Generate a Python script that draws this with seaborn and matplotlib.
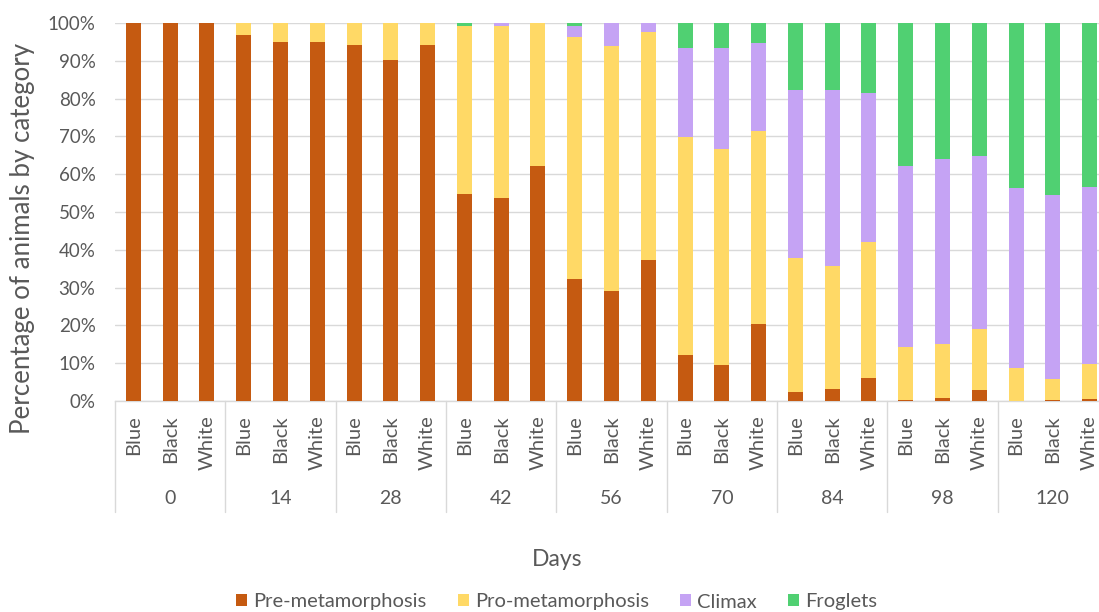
import numpy as np
import pandas as pd
import matplotlib
matplotlib.use("Agg")
import matplotlib.pyplot as plt
from matplotlib.patches import Patch
from matplotlib.transforms import blended_transform_factory
import seaborn as sns

# --- data: share of animals (%) in each developmental stage ---
days = ["0", "14", "28", "42", "56", "70", "84", "98", "120"]
backgrounds = ["Blue", "Black", "White"]
stages = ["Pre-metamorphosis", "Pro-metamorphosis", "Climax", "Froglets"]

pre_meta = [100, 100, 100, 96.8, 95.1, 95.1, 94.3, 90.3, 94.3,
            54.7, 53.8, 62.2, 32.3, 29.2, 37.4, 12.2, 9.6, 20.4,
            2.4, 3.2, 6.0, 0.3, 0.8, 2.8, 0.0, 0.3, 0.5]
pro_meta = [0, 0, 0, 3.2, 4.9, 4.9, 5.7, 9.7, 5.7,
            44.4, 45.3, 37.8, 63.9, 64.8, 60.2, 57.6, 57.1, 50.9,
            35.3, 32.5, 36.0, 14.1, 14.2, 16.2, 8.6, 5.5, 9.3]
climax = [0, 0, 0, 0, 0, 0, 0, 0, 0,
          0.0, 0.9, 0.0, 3.1, 6.0, 2.4, 23.5, 26.8, 23.5,
          44.6, 46.7, 39.4, 47.8, 49.0, 45.9, 47.8, 48.6, 46.7]
froglets = [0, 0, 0, 0, 0, 0, 0, 0, 0,
            0.9, 0.0, 0.0, 0.7, 0.0, 0.0, 6.7, 6.5, 5.2,
            17.7, 17.6, 18.6, 37.8, 36.0, 35.1, 43.6, 45.6, 43.5]

colors = ["#C55A11", "#FFD966", "#C5A3F4", "#50D072"]
text_grey = "#595959"
grid_grey = "#D9D9D9"

sns.set_style("white")
plt.rcParams["font.family"] = ["Lato", "DejaVu Sans"]

keys = [f"{d}-{b}" for d in days for b in backgrounds]
df = pd.DataFrame({"key": keys, "pre": pre_meta, "pro": pro_meta,
                   "climax": climax, "froglets": froglets})
# cumulative tops, drawn from the tallest layer down so each overlays the next
df["c_pre"] = df["pre"]
df["c_pro"] = df["c_pre"] + df["pro"]
df["c_climax"] = df["c_pro"] + df["climax"]
df["c_frog"] = df["c_climax"] + df["froglets"]

W, H = 1099, 612
fig = plt.figure(figsize=(W / 100, H / 100), dpi=100)
ax = fig.add_axes([115 / W, 1 - 401 / H, 993 / W, 378 / H])

for col, c in zip(["c_frog", "c_climax", "c_pro", "c_pre"], colors[::-1]):
    sns.barplot(data=df, x="key", y=col, order=keys, color=c, saturation=1,
                width=0.41, errorbar=None, linewidth=0, ax=ax, zorder=3)

ax.set_ylim(0, 100)
ax.set_xlim(-0.5, len(keys) - 0.5)
ax.set_yticks(np.arange(0, 101, 10))
ax.set_yticklabels([f"{v}%" for v in range(0, 101, 10)])
ax.yaxis.grid(True, color=grid_grey, linewidth=1.0, zorder=0)
ax.set_axisbelow(True)
for s in ["top", "right", "left"]:
    ax.spines[s].set_visible(False)
ax.spines["bottom"].set_color(grid_grey)
ax.spines["bottom"].set_linewidth(1.0)
ax.tick_params(axis="y", length=0, pad=14, labelsize=13.5, labelcolor=text_grey)

ax.set_xticks(range(len(keys)))
ax.set_xticklabels([b for d in days for b in backgrounds], rotation=90,
                   ha="center", va="top")
ax.tick_params(axis="x", length=0, pad=10, labelsize=14.5, labelcolor=text_grey)
ax.set_xlabel("")
ax.set_ylabel("")

# grouped category axis: dividers and day labels
trans = blended_transform_factory(ax.transData, ax.transAxes)
for i in range(len(days) + 1):
    xb = i * 3 - 0.5
    ax.plot([xb, xb], [0, -111 / 378], transform=trans, color=grid_grey,
            linewidth=1.0, clip_on=False)
for i, d in enumerate(days):
    ax.text(i * 3 + 1, -98 / 378, d, transform=trans, ha="center",
            va="center", fontsize=14, color=text_grey)

fig.text(22.5 / W, 1 - 238 / H, "Percentage of animals by category",
         rotation=90, ha="center", va="center", fontsize=18.6, color=text_grey)
fig.text(557 / W, 1 - 560 / H, "Days", ha="center", va="center",
         fontsize=16.5, color=text_grey)

handles = [Patch(facecolor=c, edgecolor="none") for c in colors]
fig.legend(handles, stages, loc="center", bbox_to_anchor=(556.5 / W, 1 - 602 / H),
           ncol=4, frameon=False, fontsize=14.5, labelcolor=text_grey,
           handlelength=0.55, handleheight=0.55, handletextpad=0.3,
           columnspacing=1.55, borderpad=0)

fig.savefig("out.png", dpi=100)
